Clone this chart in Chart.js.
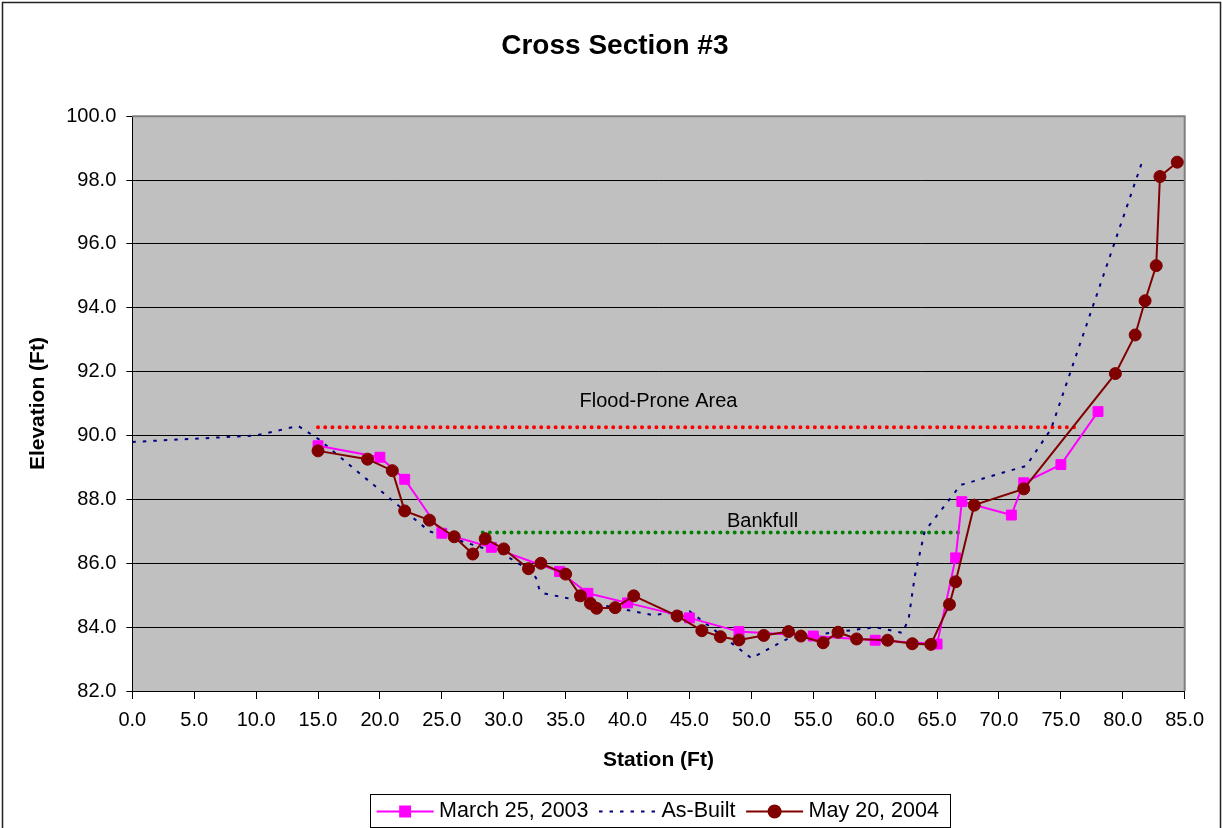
<!DOCTYPE html>
<html>
<head>
<meta charset="utf-8">
<script src="https://cdn.jsdelivr.net/npm/chart.js@4.4.1/dist/chart.umd.min.js"></script>
<style>
  html, body { margin: 0; padding: 0; background: #fff; }
  #wrap { width: 1222px; height: 828px; position: relative; }
</style>
</head>
<body>
<div id="wrap"><canvas id="c" width="1222" height="828"></canvas></div>
<script>
// ---------------- DATA ----------------
const marchStation   = [15, 20, 22, 25, 29, 34.5, 36.8, 40, 45, 49, 55, 60, 65, 66.5, 67, 71, 72, 75, 78];
const marchElevation = [89.68, 89.32, 88.63, 86.94, 86.50, 85.74, 85.06, 84.76, 84.29, 83.86, 83.72, 83.59, 83.47, 86.17, 87.93, 87.51, 88.52, 89.09, 90.75];

const asBuiltStation   = [0, 10, 13.4, 15, 24, 30, 32, 32.6, 32.9, 33.3, 42, 45, 50, 53, 60, 62.2, 62.7, 63.2, 64, 66.9, 72.2, 74.2, 81.5];
const asBuiltElevation = [89.8, 90.0, 90.3, 89.9, 87.0, 86.28, 85.8, 85.55, 85.15, 85.05, 84.38, 84.5, 83.03, 83.65, 84.0, 83.82, 84.25, 85.6, 87.0, 88.45, 89.05, 90.2, 98.5];

const mayStation   = [15, 19, 21, 22, 24, 26, 27.5, 28.5, 30, 32, 33, 35, 36.2, 37, 37.5, 39, 40.5, 44, 46, 47.5, 49, 51, 53, 54, 55.8, 57, 58.5, 61, 63, 64.5, 66, 66.5, 68, 72, 79.4, 81, 81.8, 82.7, 83, 84.4];
const mayElevation = [89.52, 89.26, 88.90, 87.64, 87.35, 86.83, 86.29, 86.77, 86.45, 85.83, 86.0, 85.66, 84.98, 84.74, 84.59, 84.61, 84.98, 84.35, 83.89, 83.70, 83.60, 83.74, 83.86, 83.72, 83.51, 83.84, 83.63, 83.59, 83.48, 83.46, 84.71, 85.42, 87.82, 88.33, 91.94, 93.15, 94.22, 95.32, 98.11, 98.56];

const floodStation   = [15, 76.3];
const floodElevation = [90.26, 90.26];

const bankfullStation   = [28.3, 66.9];
const bankfullElevation = [86.96, 86.96];

const seriesNames = ['March 25, 2003', 'As-Built', 'May 20, 2004'];
const lineLabels  = ['Flood-Prone Area', 'Bankfull'];

// ---------------- HELPERS ----------------
const FONT = '"Liberation Sans", Arial, Helvetica, sans-serif';
Chart.defaults.font.family = FONT;
Chart.defaults.color = '#000';
const toXY = (xs, ys) => xs.map((x, i) => ({ x: x, y: ys[i] }));

// background / frame
const framePlugin = {
  id: 'frame',
  beforeDraw(chart) {
    const { ctx, chartArea: a } = chart;
    ctx.save();
    ctx.fillStyle = '#fff';
    ctx.fillRect(0, 0, chart.width, chart.height);
    ctx.fillStyle = '#C0C0C0';
    ctx.fillRect(a.left, a.top, a.right - a.left, a.bottom - a.top);
    ctx.strokeStyle = '#222';
    ctx.lineWidth = 1.5;
    ctx.strokeRect(2.5, 2.5, chart.width - 4, chart.height + 20);
    ctx.restore();
  },
  beforeDatasetsDraw(chart) {
    const { ctx, chartArea: a } = chart;
    ctx.save();
    ctx.strokeStyle = '#808080';
    ctx.lineWidth = 2;
    ctx.beginPath();
    ctx.moveTo(a.left, a.top);
    ctx.lineTo(a.right, a.top);
    ctx.lineTo(a.right, a.bottom);
    ctx.stroke();
    ctx.restore();
  }
};

// text labels for the two reference lines, anchored in data coordinates
const lineLabelPlugin = {
  id: 'lineLabels',
  afterDatasetsDraw(chart, args, opts) {
    const { ctx, scales: { x, y } } = chart;
    ctx.save();
    ctx.font = '20px ' + FONT;
    ctx.fillStyle = '#000';
    ctx.textAlign = 'center';
    ctx.textBaseline = 'middle';
    opts.items.forEach(it => {
      ctx.fillText(it.text, x.getPixelForValue(it.x), y.getPixelForValue(it.y));
    });
    ctx.restore();
  }
};

// Excel-style legend: line sample with marker, boxed
const excelLegendPlugin = {
  id: 'excelLegend',
  afterDraw(chart, args, opts) {
    const ctx = chart.ctx;
    const sets = chart.data.datasets.filter(d => d.inLegend);
    ctx.save();
    ctx.font = opts.fontSize + 'px ' + FONT;
    const sampleW = 57, gapText = 5.5, gapItem = 10.5, padL = 6.5, padR = 11;
    let total = padL + padR;
    sets.forEach((d, i) => {
      total += sampleW + gapText + ctx.measureText(d.label).width + (i < sets.length - 1 ? gapItem : 0);
    });
    const left = opts.centerX - total / 2;
    const top = opts.top, h = opts.height;
    const cy = top + h / 2 + 1;
    ctx.fillStyle = '#fff';
    ctx.fillRect(left, top, total, h);
    ctx.strokeStyle = '#000';
    ctx.lineWidth = 1;
    ctx.strokeRect(Math.round(left) + 0.5, Math.round(top) + 0.5, Math.round(total), Math.round(h));
    let xPos = left + padL;
    sets.forEach(d => {
      ctx.save();
      ctx.strokeStyle = d.borderColor;
      ctx.lineWidth = d.borderWidth;
      ctx.setLineDash(d.borderDash || []);
      ctx.beginPath();
      ctx.moveTo(xPos, cy);
      ctx.lineTo(xPos + sampleW, cy);
      ctx.stroke();
      ctx.setLineDash([]);
      if (d.pointRadius > 0) {
        Chart.helpers.drawPoint(ctx, {
          pointStyle: d.pointStyle, radius: d.pointRadius, borderWidth: 1, rotation: 0
        }, xPos + sampleW / 2, cy);
        ctx.fillStyle = d.backgroundColor;
        ctx.fill();
      }
      ctx.restore();
      xPos += sampleW + gapText;
      ctx.fillStyle = '#000';
      ctx.textAlign = 'left';
      ctx.textBaseline = 'middle';
      ctx.fillText(d.label, xPos, cy);
      xPos += ctx.measureText(d.label).width + gapItem;
    });
    ctx.restore();
  }
};

const oneDecimal = v => Number(v).toFixed(1);

new Chart(document.getElementById('c'), {
  type: 'scatter',
  data: {
    datasets: [
      {
        label: seriesNames[0],
        data: toXY(marchStation, marchElevation),
        showLine: true,
        borderColor: '#FF00FF',
        backgroundColor: '#FF00FF',
        borderWidth: 2,
        pointStyle: 'rect',
        pointRadius: 7,
        pointBorderWidth: 1,
        pointBorderColor: '#FF00FF',
        pointBackgroundColor: '#FF00FF',
        order: 1,
        inLegend: true
      },
      {
        label: seriesNames[1],
        data: toXY(asBuiltStation, asBuiltElevation),
        showLine: true,
        borderColor: '#000080',
        backgroundColor: '#000080',
        borderWidth: 2,
        borderDash: [3.5, 7],
        pointRadius: 0,
        order: 2,
        inLegend: true
      },
      {
        label: seriesNames[2],
        data: toXY(mayStation, mayElevation),
        showLine: true,
        borderColor: '#800000',
        backgroundColor: '#800000',
        borderWidth: 2,
        pointStyle: 'circle',
        pointRadius: 6,
        pointBorderWidth: 1,
        pointBorderColor: '#800000',
        pointBackgroundColor: '#800000',
        order: 0,
        inLegend: true
      },
      {
        label: lineLabels[0],
        data: toXY(floodStation, floodElevation),
        showLine: true,
        borderColor: '#FF0000',
        borderWidth: 4,
        borderDash: [0, 7.2],
        borderCapStyle: 'round',
        pointRadius: 0,
        order: 3,
        inLegend: false
      },
      {
        label: lineLabels[1],
        data: toXY(bankfullStation, bankfullElevation),
        showLine: true,
        borderColor: '#008000',
        borderWidth: 4,
        borderDash: [0, 7.2],
        borderCapStyle: 'round',
        pointRadius: 0,
        order: 3,
        inLegend: false
      }
    ]
  },
  options: {
    responsive: false,
    animation: false,
    events: [],
    layout: { padding: { left: 45, right: 37.3, top: 0, bottom: 45 } },
    plugins: {
      legend: { display: false },
      tooltip: { enabled: false },
      title: {
        display: true,
        text: 'Cross Section #3',
        color: '#000',
        font: { size: 28, weight: 'bold' },
        padding: { top: 29, bottom: 53.6 }
      },
      lineLabels: {
        items: [
          { text: lineLabels[0], x: 42.5, y: 91.06 },
          { text: lineLabels[1], x: 50.9, y: 87.3 }
        ]
      },
      excelLegend: { centerX: 660, top: 794, height: 33, fontSize: 21.5 }
    },
    scales: {
      x: {
        type: 'linear',
        min: 0,
        max: 85,
        ticks: { stepSize: 5, callback: oneDecimal, font: { size: 20 }, padding: 9, maxRotation: 0, autoSkip: false, color: '#000' },
        grid: { drawOnChartArea: false, tickLength: 8, tickColor: '#000', tickWidth: 1, color: '#000' },
        border: { display: true, color: '#000', width: 1 },
        title: { display: true, text: 'Station (Ft)', color: '#000', font: { size: 21, weight: 'bold' }, padding: { top: 0, bottom: 10.4 } },
        afterFit(s) { s.height = 92; }
      },
      y: {
        type: 'linear',
        min: 82,
        max: 100,
        ticks: { stepSize: 2, callback: oneDecimal, font: { size: 20 }, padding: 10, color: '#000' },
        grid: { color: '#000', lineWidth: 1, tickLength: 6, tickColor: '#000', tickWidth: 1 },
        border: { display: true, color: '#000', width: 1 },
        title: { display: true, text: 'Elevation (Ft)', color: '#000', font: { size: 21, weight: 'bold' }, padding: { top: -19.6, bottom: 0 } },
        afterFit(s) { s.width = 87.3; }
      }
    }
  },
  plugins: [framePlugin, lineLabelPlugin, excelLegendPlugin]
});
</script>
</body>
</html>
